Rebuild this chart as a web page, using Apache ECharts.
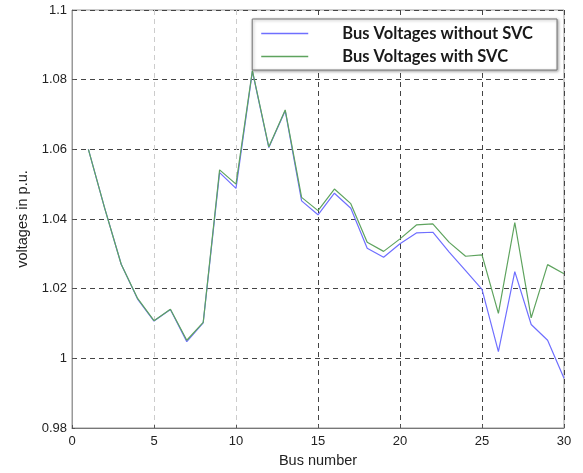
<!DOCTYPE html>
<html><head><meta charset="utf-8">
<script src="https://cdn.jsdelivr.net/npm/echarts@6/dist/echarts.min.js"></script>
<style>html,body{margin:0;padding:0;background:#fff}#c{width:583px;height:473px}</style>
</head><body><div id="c"></div>
<script>
const buses = [1,2,3,4,5,6,7,8,9,10,11,12,13,14,15,16,17,18,19,20,21,22,23,24,25,26,27,28,29,30];
const withoutSVC = [1.060,1.043,1.027,1.017,1.0107,1.014,1.0048,1.0102,1.0533,1.0488,1.0824,1.0605,1.0711,1.0452,1.0412,1.0474,1.0431,1.0316,1.029,1.0329,1.036,1.0362,1.0305,1.0252,1.0198,1.0019,1.0249,1.0097,1.0052,0.9943];
const withSVC = [1.060,1.043,1.027,1.0172,1.0108,1.0141,1.0052,1.0103,1.0541,1.0500,1.0826,1.0607,1.0713,1.0462,1.0424,1.0486,1.0444,1.0333,1.0307,1.0343,1.0383,1.0386,1.0333,1.0293,1.0297,1.0129,1.0390,1.0116,1.0269,1.0243];
const seriesNames = ['Bus Voltages without SVC','Bus Voltages with SVC'];
const xTitle = 'Bus number';
const yTitle = 'voltages in p.u.';

const chart = echarts.init(document.getElementById('c'));
chart.setOption({
  animation: false,
  backgroundColor: '#fff',
  grid: {left: 72, right: 19, top: 10, bottom: 43, show: true, borderColor: '#999', borderWidth: 1, backgroundColor: 'transparent'},
  legend: {
    orient: 'vertical', right: 26, top: 19,
    backgroundColor: '#fff', borderColor: '#777', borderWidth: 1,
    shadowColor: 'rgba(0,0,0,0.35)', shadowBlur: 3, shadowOffsetX: 1, shadowOffsetY: 1,
    padding: [6, 24, 5, 9], itemGap: 6, itemWidth: 47, itemHeight: 14,
    textStyle: {fontFamily: 'Lato', fontWeight: 'bold', fontSize: 16.5, color: '#1a1a1a', padding: [0, 0, 0, 29]},
    data: seriesNames.map(n => ({name: n, icon: 'path://M0,0 L47,0 L47,1.3 L0,1.3 Z'}))
  },
  xAxis: {
    type: 'value', min: 0, max: 30, interval: 5,
    name: xTitle, nameLocation: 'middle', nameGap: 25,
    nameTextStyle: {fontFamily: 'Liberation Sans', fontSize: 14.5, color: '#222'},
    axisLine: {show: true, lineStyle: {color: '#777'}},
    axisTick: {show: true, inside: true, length: 3, lineStyle: {color: '#555'}},
    axisLabel: {fontFamily: 'Liberation Sans', fontSize: 13, color: '#222', margin: 7},
    splitLine: {show: true, lineStyle: {type: [5, 4], color: ['#444', '#ccc', '#ccc', '#444', '#444', '#444', '#444'], width: 1}}
  },
  yAxis: {
    type: 'value', min: 0.98, max: 1.1, interval: 0.02,
    name: yTitle, nameLocation: 'middle', nameGap: 40, nameRotate: 90,
    nameTextStyle: {fontFamily: 'Liberation Sans', fontSize: 14.5, color: '#222'},
    axisLine: {show: true, lineStyle: {color: '#999'}},
    axisTick: {show: true, inside: true, length: 3, lineStyle: {color: '#555'}},
    axisLabel: {fontFamily: 'Liberation Sans', fontSize: 13, color: '#222', margin: 5,
      formatter: v => String(+v.toFixed(2))},
    splitLine: {show: true, lineStyle: {type: [5, 4], color: '#444', width: 1}}
  },
  series: [
    {name: seriesNames[0], type: 'line', symbol: 'none', color: '#6f6fff',
     lineStyle: {width: 1.2, color: '#6f6fff'}, data: buses.map((b, i) => [b, withoutSVC[i]])},
    {name: seriesNames[1], type: 'line', symbol: 'none', color: '#5ea35e',
     lineStyle: {width: 1.2, color: '#5ea35e'}, data: buses.map((b, i) => [b, withSVC[i]])}
  ]
});
</script></body></html>
